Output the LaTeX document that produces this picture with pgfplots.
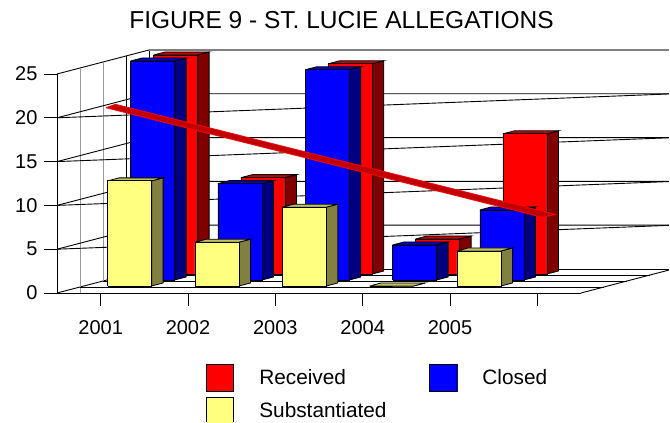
\documentclass[border=0pt]{standalone}
\usepackage{pgfplots}
\pgfplotsset{compat=1.18}
\usepackage{fontspec}
\setmainfont{Liberation Sans}
\definecolor{rfront}{HTML}{FF0000}\definecolor{rside}{HTML}{800000}\definecolor{rtop}{HTML}{C00000}
\definecolor{bfront}{HTML}{0000FF}\definecolor{bside}{HTML}{000080}\definecolor{btop}{HTML}{0000C0}
\definecolor{yfront}{HTML}{FFFF80}\definecolor{yside}{HTML}{808040}\definecolor{ytop}{HTML}{C0C060}
\pgfplotsset{
  face/.style={forget plot,draw=black,line width=0.8pt,line join=miter,mark=none},
  wall/.style={forget plot,draw=black,line width=0.9pt,mark=none},
  wallg/.style={forget plot,draw=gray!80,line width=1pt,mark=none},
}
% category index, series index (0 front, 2 back), value, front, side, top colours
\newcommand{\threedbar}[6]{%
  \pgfmathsetmacro\xa{#1+0.0794+#2*0.2634}%
  \pgfmathsetmacro\xb{\xa+0.504}%
  \pgfmathsetmacro\xc{\xb+0.1317}%
  \pgfmathsetmacro\xd{\xa+0.1317}%
  \pgfmathsetmacro\ya{0.8+#2*0.685}%
  \pgfmathsetmacro\ye{\ya+0.342}%
  \pgfmathsetmacro\yb{\ya+#3}%
  \pgfmathsetmacro\yc{\yb+0.342}%
  \addplot[face,fill=#5] coordinates {(\xb,\ya) (\xc,\ye) (\xc,\yc) (\xb,\yb) (\xb,\ya)};
  \addplot[face,fill=#6] coordinates {(\xa,\yb) (\xb,\yb) (\xc,\yc) (\xd,\yc) (\xa,\yb)};
  \addplot[face,fill=#4] coordinates {(\xa,\ya) (\xb,\ya) (\xb,\yb) (\xa,\yb) (\xa,\ya)};
}
\newcommand{\swatch}[1]{\fill[#1] (0pt,-13.2pt) rectangle (27pt,13.5pt); \draw[black,line width=0.8pt] (0pt,-13.2pt) rectangle (27pt,13.5pt); \path (52.5pt,0pt) coordinate (legendgap);}
\begin{document}
\begin{tikzpicture}
\begin{axis}[
  scale only axis, width=524pt, height=219pt,
  xmin=-0.5, xmax=5.5, ymin=0, ymax=25,
  clip=false,
  axis y line=left, axis x line=bottom,
  axis line style={-,line width=0.9pt,black},
  xtick={0,1,2,3,4,5}, xticklabels={2001,2002,2003,2004,2005,{}},
  ytick={0,5,10,15,20,25},
  tick align=outside, major tick length=13pt,
  tick style={black,line width=0.9pt},
  /pgf/number format/assume math mode=true,
  tick label style={font=\fontsize{20}{22}\selectfont},
  xticklabel style={yshift=-11pt},
  yticklabel style={xshift=-3pt},
  title={FIGURE 9 - ST. LUCIE ALLEGATIONS},
  title style={at={(0.543,1.2192)},anchor=center,font=\fontsize{24.5}{28}\selectfont,inner sep=0pt},
  legend columns=2,
  legend cell align=left,
  legend style={at={(0.2844,-0.3242)},anchor=north west,draw=none,fill=none,inner sep=0pt,
    nodes={inner sep=0pt,font=\fontsize{20.8}{24}\selectfont},row sep=5.3pt},
]
% walls and floor
\addplot[wall] coordinates {(-0.5,25) (0.5535,27.74)};
\addplot[wall] coordinates {(-0.5,0) (0.5535,2.74)};
\addplot[wall] coordinates {(5.5,0) (6.5076,2.62)};
\addplot[wallg] coordinates {(-0.2366,0) (-0.2366,25.685)};
\addplot[wallg] coordinates {(0.0268,1.37) (0.0268,26.37)};
\addplot[wall] coordinates {(0.2901,2.055) (0.2901,27.055)};
\addplot[wall] coordinates {(0.5535,2.74) (0.5535,27.74)};
\addplot[wall] coordinates {(-0.2366,0.685) (5.7634,0.685)};
\addplot[wall] coordinates {(0.0268,1.37) (6.0268,1.37)};
\addplot[wall] coordinates {(0.2901,2.055) (6.2901,2.055)};
\addplot[wall] coordinates {(0.5535,2.74) (6.5076,2.74)};
\addplot[forget plot,draw=gray,line width=1.8pt,mark=none] coordinates {(0.5535,27.74) (6.5076,27.74)};
% levels
\addplot[wall] coordinates {(-0.5,5) (0.5535,7.74) (6.5076,7.74)};
\addplot[wall] coordinates {(-0.5,5) (6.5076,7.72)};
\addplot[wall] coordinates {(-0.5,10) (0.5535,12.74) (6.5076,12.74)};
\addplot[wall] coordinates {(-0.5,10) (6.5076,12.72)};
\addplot[wall] coordinates {(-0.5,15) (0.5535,17.74) (6.5076,17.74)};
\addplot[wall] coordinates {(-0.5,15) (6.5076,17.72)};
\addplot[wall] coordinates {(-0.5,20) (0.5535,22.74) (6.5076,22.74)};
\addplot[wall] coordinates {(-0.5,20) (6.5076,22.72)};
% Received
\threedbar{0}{2}{25}{rfront}{rside}{rtop}
\threedbar{1}{2}{11}{rfront}{rside}{rtop}
\threedbar{2}{2}{24}{rfront}{rside}{rtop}
\threedbar{3}{2}{4}{rfront}{rside}{rtop}
\threedbar{4}{2}{16}{rfront}{rside}{rtop}
% Closed
\threedbar{0}{1}{25}{bfront}{bside}{btop}
\threedbar{1}{1}{11}{bfront}{bside}{btop}
\threedbar{2}{1}{24}{bfront}{bside}{btop}
\threedbar{3}{1}{4}{bfront}{bside}{btop}
\threedbar{4}{1}{8}{bfront}{bside}{btop}
% Substantiated
\threedbar{0}{0}{12}{yfront}{yside}{ytop}
\threedbar{1}{0}{5}{yfront}{yside}{ytop}
\threedbar{2}{0}{9}{yfront}{yside}{ytop}
\threedbar{3}{0}{0}{yfront}{yside}{ytop}
\threedbar{4}{0}{4}{yfront}{yside}{ytop}
% trend ribbon
\addplot[forget plot,fill=rtop,draw=rfront,line width=0.8pt,mark=none] coordinates {(0.0611,21.15) (0.1699,21.54) (5.2025,8.98) (5.065,8.62) (0.0611,21.15)};
% legend
\addlegendimage{legend image code/.code={\swatch{rfront}}}
\addlegendentry{\makebox[170pt][l]{Received}}
\addlegendimage{legend image code/.code={\swatch{bfront}}}
\addlegendentry{Closed}
\addlegendimage{legend image code/.code={\fill[yfront] (0pt,-11.3pt) rectangle (27pt,13.5pt); \draw[black,line width=0.8pt] (0pt,-11.3pt) -- (0pt,13.5pt) -- (27pt,13.5pt) -- (27pt,-11.3pt); \path (52.5pt,0pt) coordinate (legendgapb);}}
\addlegendentry{Substantiated}
\end{axis}
\path[use as bounding box] (-57pt,-128pt) rectangle (613pt,293pt);
\end{tikzpicture}
\end{document}
